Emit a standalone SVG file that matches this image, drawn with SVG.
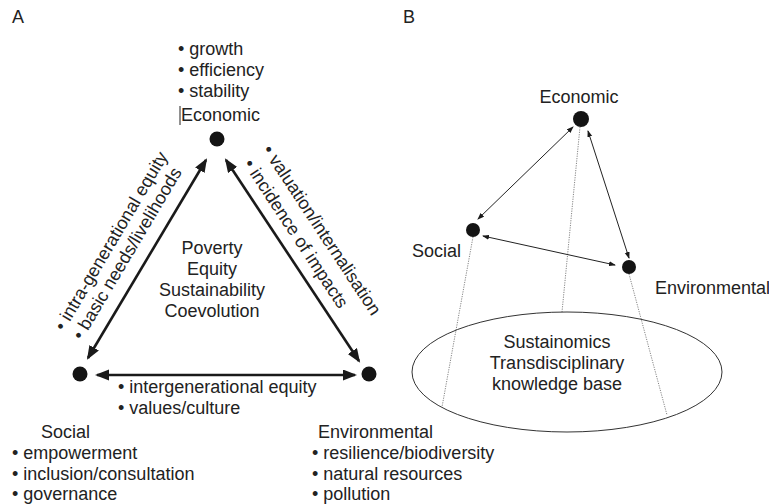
<svg xmlns="http://www.w3.org/2000/svg" width="769" height="504" viewBox="0 0 769 504">
<defs>
<marker id="bigArrow" markerUnits="userSpaceOnUse" markerWidth="16" markerHeight="12" refX="12" refY="5.5" orient="auto-start-reverse">
<path d="M0,0 L14,5.5 L0,11 z" fill="#1a1a1a"/>
</marker>
<marker id="smallArrow" markerUnits="userSpaceOnUse" markerWidth="8" markerHeight="6" refX="6" refY="2.5" orient="auto-start-reverse">
<path d="M0,0 L7,2.5 L0,5 z" fill="#1a1a1a"/>
</marker>
<style>
text{font-family:"Liberation Sans",Arial,sans-serif;font-size:18px;fill:#222}
.mid{text-anchor:middle}
.dot{fill:#141414}
.big{stroke:#1a1a1a;stroke-width:2.6;fill:none}
.thin{stroke:#222;stroke-width:1;fill:none}
.dotted{stroke:#777;stroke-width:0.9;stroke-dasharray:1.2 1.2;fill:none}
</style>
</defs>

<text x="12" y="23" font-size="16">A</text>
<text x="403" y="23" font-size="16">B</text>

<!-- Panel A -->
<g id="connectorsA">
<line class="big" x1="206" y1="160" x2="88" y2="358" marker-start="url(#bigArrow)" marker-end="url(#bigArrow)"/>
<line class="big" x1="226" y1="160" x2="359" y2="361" marker-start="url(#bigArrow)" marker-end="url(#bigArrow)"/>
<line class="big" x1="97" y1="375" x2="355" y2="375" marker-start="url(#bigArrow)" marker-end="url(#bigArrow)"/>
</g>

<g id="economicA">
<circle class="dot" cx="217" cy="139" r="7.5"/>
<text x="178" y="55">• growth</text>
<text x="178" y="76">• efficiency</text>
<text x="178" y="97">• stability</text>
<line x1="180" y1="106" x2="180" y2="125" stroke="#222" stroke-width="1"/>
<text x="181" y="121">Economic</text>
</g>

<g id="socialA">
<circle class="dot" cx="80" cy="374" r="7.5"/>
<text x="41" y="438">Social</text>
<text x="12" y="459">• empowerment</text>
<text x="12" y="480">• inclusion/consultation</text>
<text x="12" y="500">• governance</text>
</g>

<g id="environmentalA">
<circle class="dot" cx="369" cy="374" r="7.5"/>
<text x="318" y="438">Environmental</text>
<text x="312" y="459">• resilience/biodiversity</text>
<text x="312" y="480">• natural resources</text>
<text x="312" y="500">• pollution</text>
</g>

<g id="centreA">
<text class="mid" x="212" y="254">Poverty</text>
<text class="mid" x="212" y="275">Equity</text>
<text class="mid" x="212" y="296">Sustainability</text>
<text class="mid" x="212" y="317">Coevolution</text>
</g>

<g id="edgeLabelsA">
<text transform="translate(64,332) rotate(-59.3)">• intra-generational equity</text>
<text transform="translate(82,341) rotate(-59.3)">• basic needs/livelihoods</text>
<text transform="translate(262,150) rotate(56.6)">• valuation/internalisation</text>
<text transform="translate(243,164) rotate(56.6)">• incidence of impacts</text>
<text x="118" y="393">• intergenerational equity</text>
<text x="118" y="414">• values/culture</text>
</g>

<!-- Panel B -->
<g id="connectorsB">
<line class="dotted" x1="580" y1="127" x2="562" y2="312"/>
<line class="dotted" x1="473" y1="237" x2="442" y2="407"/>
<line class="dotted" x1="629" y1="274" x2="667" y2="415"/>
<line class="thin" x1="573" y1="127" x2="478" y2="219" marker-start="url(#smallArrow)" marker-end="url(#smallArrow)"/>
<line class="thin" x1="588" y1="131" x2="629" y2="258" marker-start="url(#smallArrow)" marker-end="url(#smallArrow)"/>
<line class="thin" x1="483" y1="236" x2="615" y2="265" marker-start="url(#smallArrow)" marker-end="url(#smallArrow)"/>
</g>

<g id="economicB">
<circle class="dot" cx="581" cy="119" r="8"/>
<text class="mid" x="579" y="103">Economic</text>
</g>

<g id="socialB">
<circle class="dot" cx="473" cy="230" r="7"/>
<text x="412" y="257">Social</text>
</g>

<g id="environmentalB">
<circle class="dot" cx="629" cy="267" r="7"/>
<text x="655" y="294">Environmental</text>
</g>

<g id="knowledgeBase">
<ellipse cx="567" cy="372" rx="155" ry="60" fill="none" stroke="#333" stroke-width="1"/>
<text class="mid" x="557" y="348">Sustainomics</text>
<text class="mid" x="557" y="369">Transdisciplinary</text>
<text class="mid" x="557" y="390">knowledge base</text>
</g>
</svg>
